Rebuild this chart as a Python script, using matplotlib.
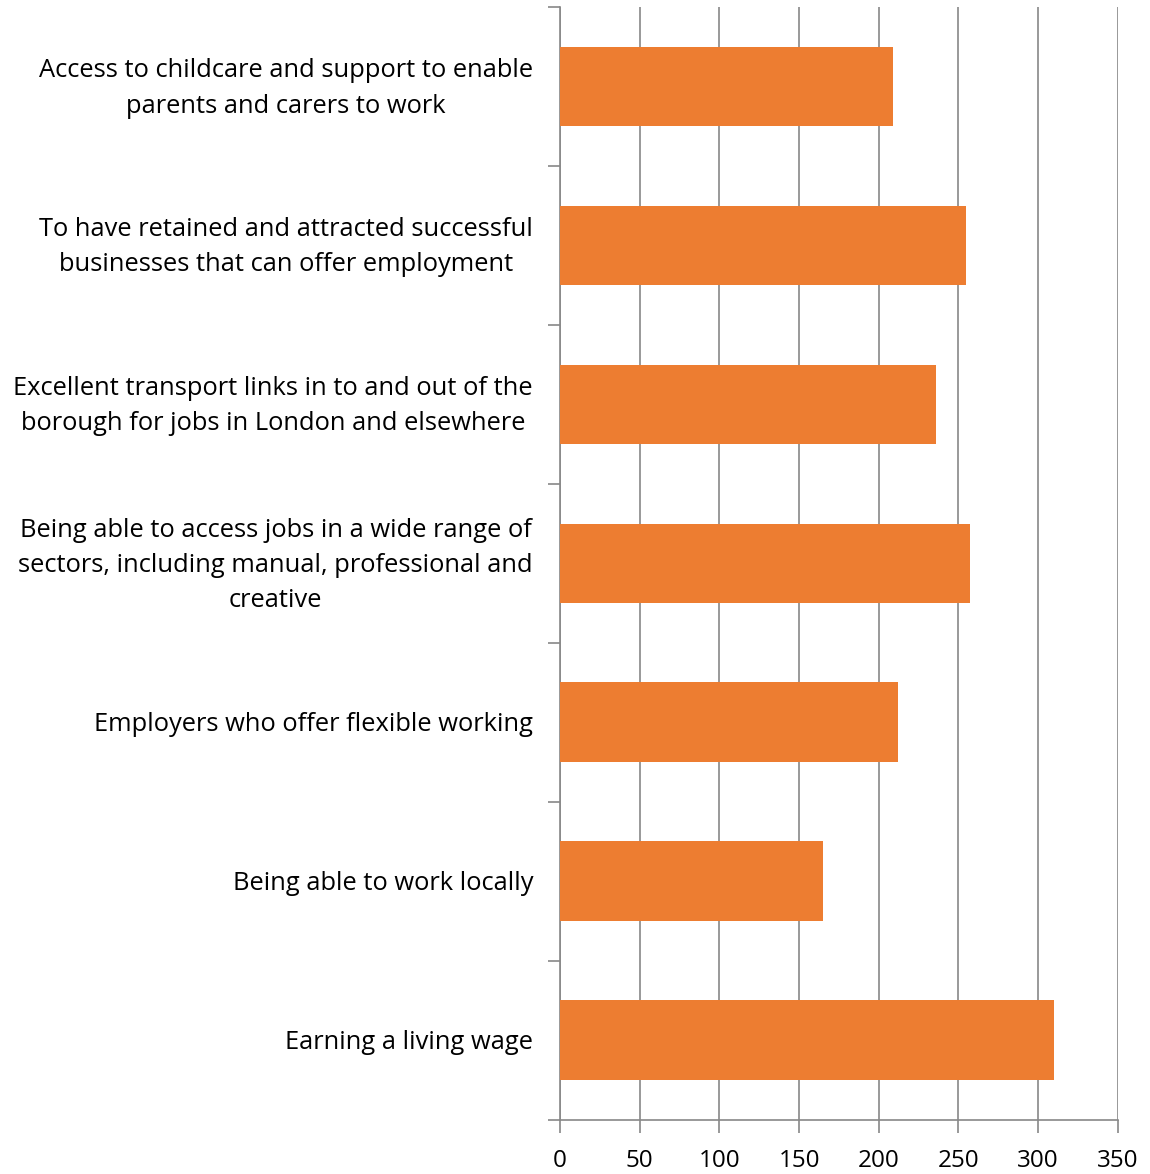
import matplotlib.pyplot as plt
from matplotlib.transforms import ScaledTranslation

labels = [
    "Access to childcare and support to enable\nparents and carers to work",
    "To have retained and attracted successful\nbusinesses that can offer employment",
    "Excellent transport links in to and out of the\nborough for jobs in London and elsewhere",
    "Being able to access jobs in a wide range of\nsectors, including manual, professional and\ncreative",
    "Employers who offer flexible working",
    "Being able to work locally",
    "Earning a living wage",
]
values = [209, 255, 236, 257, 212, 165, 310]
xticks = [0, 50, 100, 150, 200, 250, 300, 350]

plt.rcParams['font.family'] = ['Open Sans', 'DejaVu Sans']

fig = plt.figure(figsize=(11.5, 11.74), dpi=100)
ax = fig.add_axes([0.487, 0.0464, 0.972 - 0.487, 0.994 - 0.0464])

pos = list(range(len(labels)))
ax.barh(pos, values, height=0.5, color='#ED7D31', zorder=3)

ax.set_xlim(0, 350)
ax.set_ylim(len(labels) - 0.5, -0.5)
ax.set_xticks(xticks)
ax.set_xticklabels([str(t) for t in xticks], fontsize=17.5)

# category boundaries carry the y ticks, labels sit at the centres
ax.set_yticks([i - 0.5 for i in range(len(labels) + 1)])
ax.set_yticklabels([])
ax.tick_params(axis='y', which='major', length=9, color='#888888', width=1.2)
ax.tick_params(axis='x', length=9, color='#888888', width=1.2, pad=12)

# category labels as plain text left of the axis
lab_tr = ax.get_yaxis_transform() + ScaledTranslation(-27 / 100, -2 / 100, fig.dpi_scale_trans)
for p, lab in zip(pos, labels):
    ax.text(0, p, lab, transform=lab_tr, fontsize=18.4, ha='right', va='center',
            multialignment='center', linespacing=1.53)

ax.grid(axis='x', color='#888888', linewidth=1.2, zorder=0)
for s in ['top', 'right']:
    ax.spines[s].set_visible(False)
for s in ['left', 'bottom']:
    ax.spines[s].set_color('#888888')
    ax.spines[s].set_linewidth(1.2)

fig.savefig('out.png', dpi=100)
